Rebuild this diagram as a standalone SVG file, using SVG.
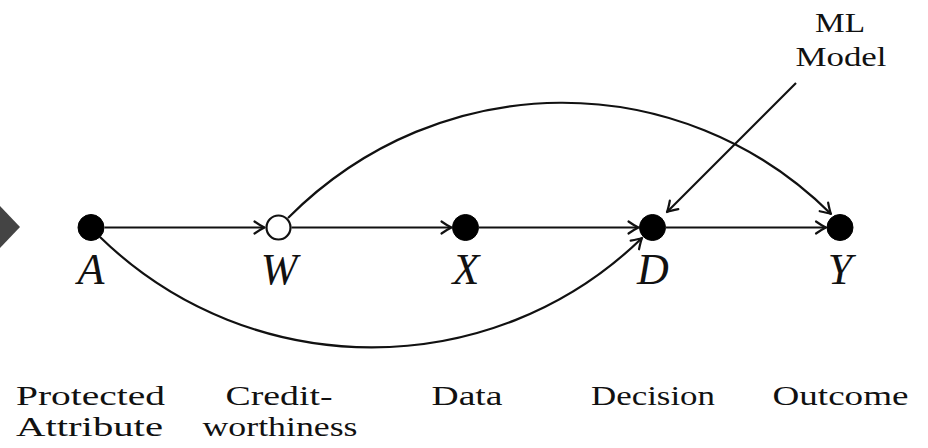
<svg xmlns="http://www.w3.org/2000/svg" width="928" height="448" viewBox="0 0 928 448">
<style>
.edge{fill:none;stroke:#111;stroke-width:2.2;marker-end:url(#arr)}
.var{font-family:"Liberation Serif","Times New Roman",serif;font-style:italic;font-size:44px;fill:#111;text-anchor:middle}
.lbl{font-family:"Liberation Serif","Times New Roman",serif;font-size:28px;fill:#111;text-anchor:middle}
.dot{fill:#000;stroke:#000;stroke-width:1}
.open{fill:#fff;stroke:#111;stroke-width:2.2}
</style>
<defs>
<marker id="arr" markerUnits="userSpaceOnUse" viewBox="-12 -12 24 24" markerWidth="24" markerHeight="24" refX="0" refY="0" orient="auto" overflow="visible">
<path d="M -10 -6 Q -3.5 -1.6 0 0 Q -3.5 1.6 -10 6" fill="none" stroke="#111" stroke-width="2.2" stroke-linecap="round" stroke-linejoin="round"/>
</marker>
</defs>
<rect width="928" height="448" fill="#fff"/>
<polygon points="0,206 20,227 0,248" fill="#444"/>
<g id="connectors">
<path class="edge" d="M 104.5 227.5 L 264.5 227.5"/>
<path class="edge" d="M 291.5 227.5 L 451.5 227.5"/>
<path class="edge" d="M 479 227.5 L 638.5 227.5"/>
<path class="edge" d="M 666 227.5 L 826 227.5"/>
<path class="edge" d="M 100 237 C 251 384 492 384 642 238"/>
<path class="edge" d="M 288 218 C 440 65 681 65 831 214"/>
<path class="edge" d="M 796 83 L 667 212"/>
</g>
<g id="node-A"><circle class="dot" cx="91" cy="227.5" r="13"/><text class="var" x="91" y="284">A</text><text class="lbl" x="90.5" y="405" textLength="149" lengthAdjust="spacingAndGlyphs">Protected</text><text class="lbl" x="89.5" y="436" textLength="147" lengthAdjust="spacingAndGlyphs">Attribute</text></g>
<g id="node-W"><circle class="open" cx="278.5" cy="227.5" r="12"/><text class="var" x="279" y="284">W</text><text class="lbl" x="279" y="405" textLength="107" lengthAdjust="spacingAndGlyphs">Credit-</text><text class="lbl" x="280" y="436" textLength="155" lengthAdjust="spacingAndGlyphs">worthiness</text></g>
<g id="node-X"><circle class="dot" cx="465.5" cy="227.5" r="13"/><text class="var" x="466" y="284">X</text><text class="lbl" x="467" y="405" textLength="71" lengthAdjust="spacingAndGlyphs">Data</text></g>
<g id="node-D"><circle class="dot" cx="652.5" cy="227.5" r="13"/><text class="var" x="653" y="284">D</text><text class="lbl" x="653" y="405" textLength="124" lengthAdjust="spacingAndGlyphs">Decision</text></g>
<g id="node-Y"><circle class="dot" cx="840" cy="227.5" r="13"/><text class="var" x="840" y="284">Y</text><text class="lbl" x="840.5" y="405" textLength="136" lengthAdjust="spacingAndGlyphs">Outcome</text></g>
<g id="node-ML"><text class="lbl" x="840" y="32" textLength="50" lengthAdjust="spacingAndGlyphs">ML</text><text class="lbl" x="841" y="66" textLength="91" lengthAdjust="spacingAndGlyphs">Model</text></g>
</svg>
